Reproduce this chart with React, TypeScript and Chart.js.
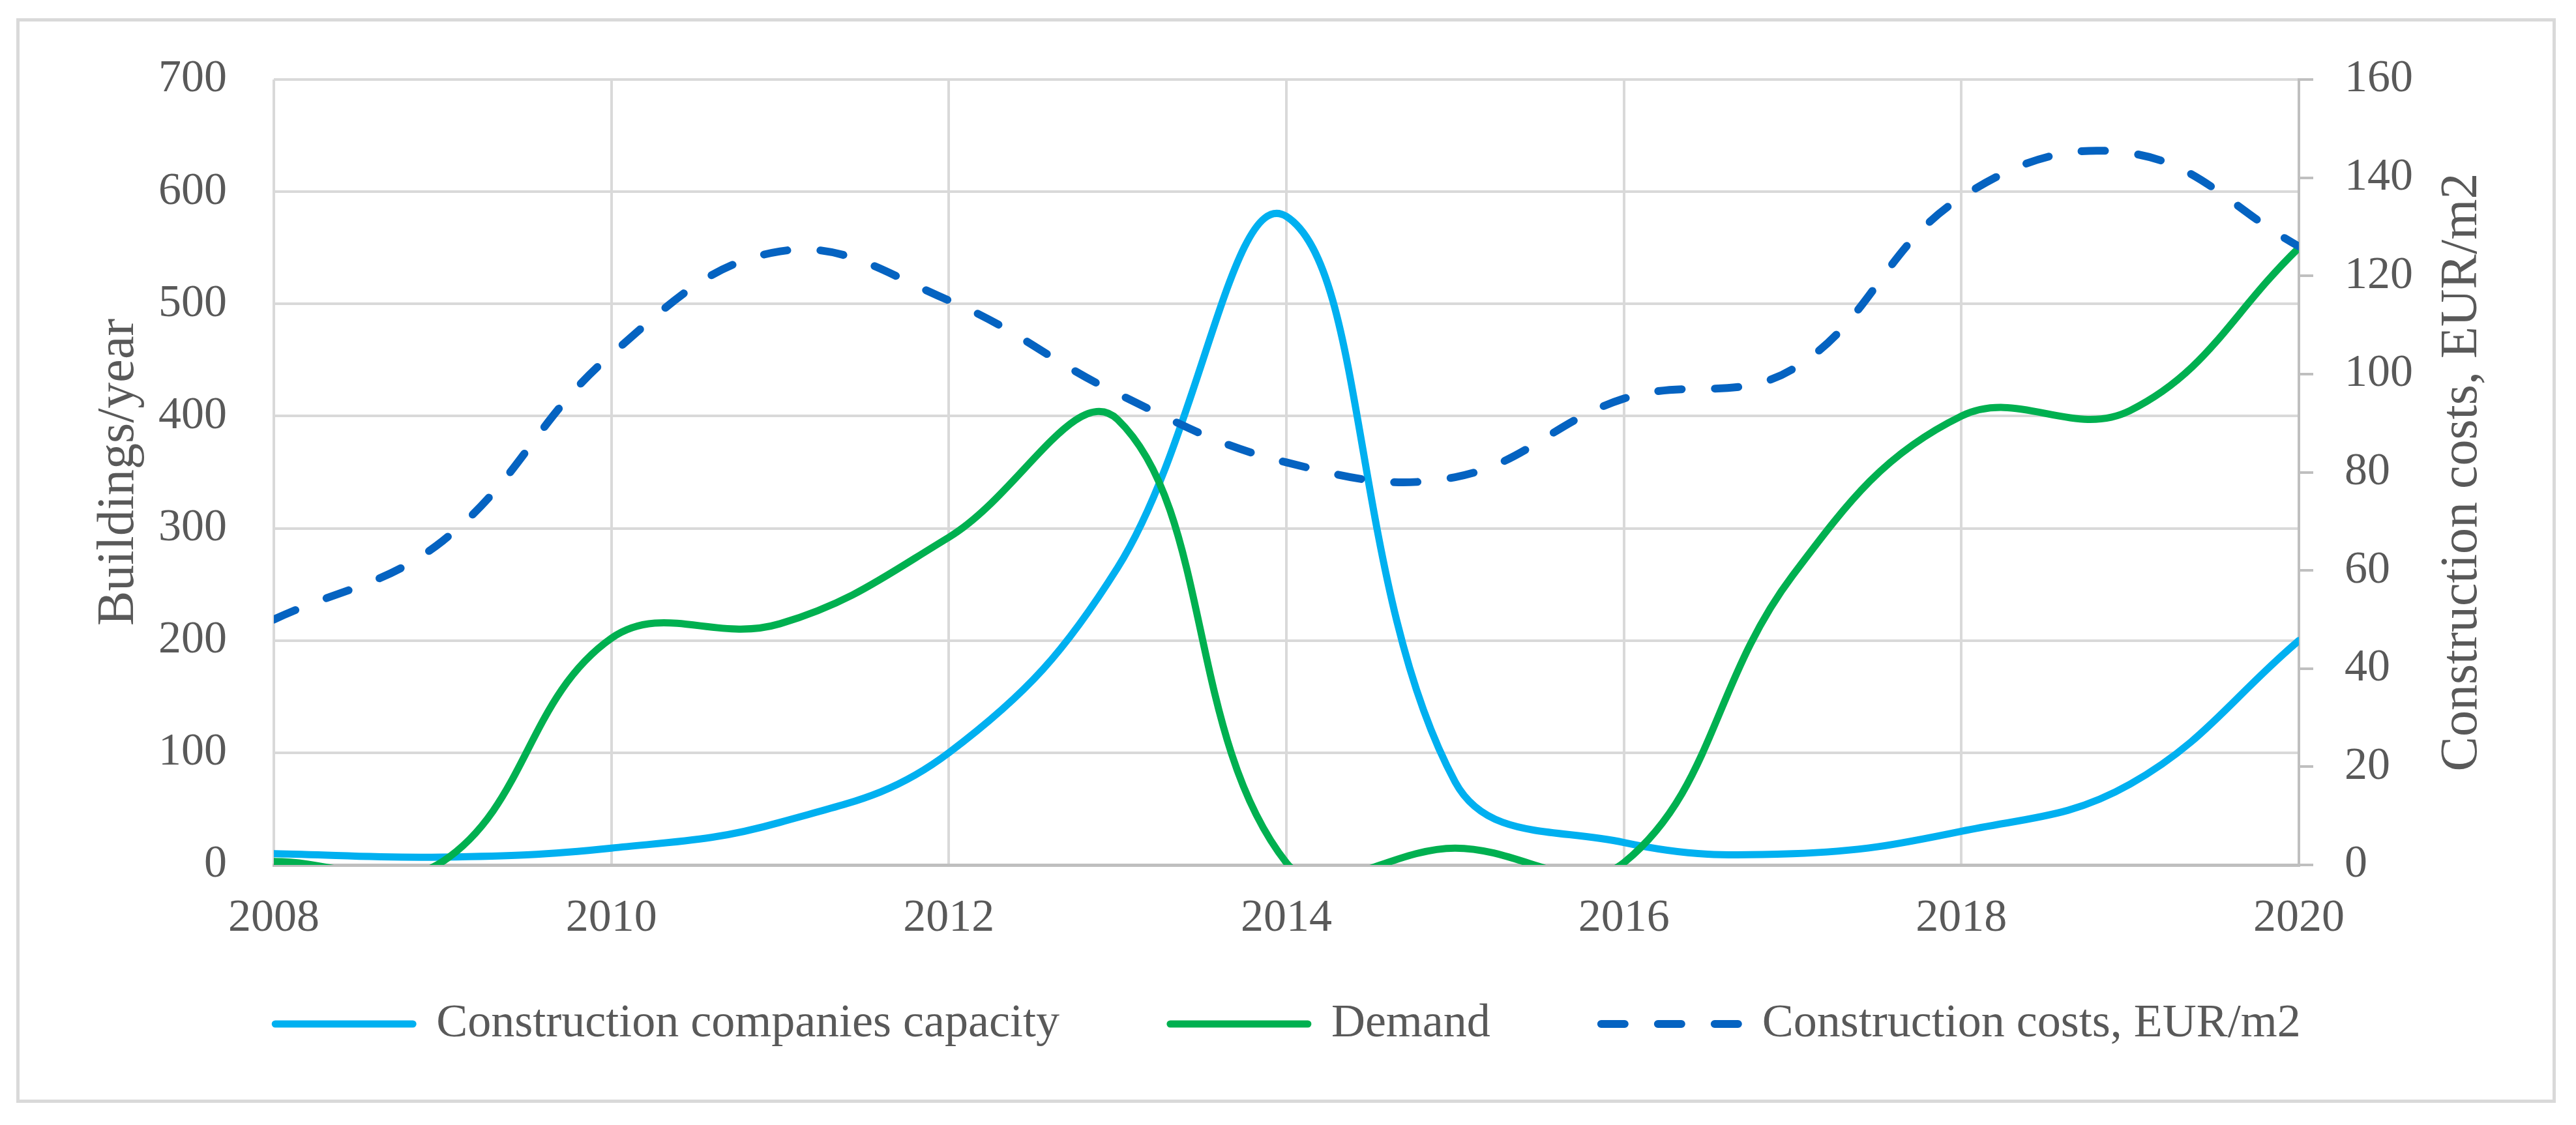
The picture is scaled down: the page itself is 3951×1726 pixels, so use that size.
import React, { useEffect, useRef } from 'react';
import { Chart, registerables } from 'chart.js';

Chart.register(...registerables);

// ---- data ----
const years = [2008, 2009, 2010, 2011, 2012, 2013, 2014, 2015, 2016, 2017, 2018, 2019, 2020];
const capacity = [10, 7, 15, 38, 100, 265, 578, 74, 20, 10, 30, 72, 200];
const demand = [3, 3, 202, 215, 292, 397, 2, 15, 2, 258, 400, 405, 550];
const costs = [50, 66, 104, 125, 115, 96, 82, 79, 95, 101, 136, 145, 126];

const xTickValues = [2008, 2010, 2012, 2014, 2016, 2018, 2020];
const leftTickValues = [0, 100, 200, 300, 400, 500, 600, 700];
const rightTickValues = [0, 20, 40, 60, 80, 100, 120, 140, 160];

const seriesNames = ['Construction companies capacity', 'Demand', 'Construction costs, EUR/m2'];
const leftTitle = 'Buildings/year';
const rightTitle = 'Construction costs, EUR/m2';

const W = 3951;
const H = 1726;
const FONT = "'Liberation Serif', 'Times New Roman', serif";
const TEXT = '#595959';
const GRID = '#D9D9D9';
const AXIS = '#BFBFBF';
const LEGEND_CENTER_Y = 1571;

// move the legend row up to its place under the axis labels
const legendShiftPlugin = {
  id: 'legendShift',
  afterLayout(chart: any) {
    const lg = chart.legend;
    if (!lg) return;
    const pad = lg.options.labels.padding;
    const fs = lg.options.labels.font.size;
    const natural = lg.top + pad + fs / 2;
    const dy = LEGEND_CENTER_Y - natural;
    lg.top += dy;
    lg.bottom += dy;
  },
};

const rightTitlePlugin = {
  id: 'rightTitle',
  afterDraw(chart: any) {
    const s = chart.scales.y1;
    const ctx = chart.ctx;
    ctx.save();
    ctx.font = `80px ${FONT}`;
    ctx.fillStyle = TEXT;
    ctx.textAlign = 'center';
    ctx.textBaseline = 'middle';
    ctx.translate(s.right - 174, (chart.chartArea.top + chart.chartArea.bottom) / 2);
    ctx.rotate(-Math.PI / 2);
    ctx.fillText(rightTitle, 0, 0);
    ctx.restore();
  },
};

function toPoints(vals: number[]) {
  return years.map((x, i) => ({ x, y: vals[i] }));
}

export default function App() {
  const ref = useRef<HTMLCanvasElement | null>(null);

  useEffect(() => {
    if (!ref.current) return;
    const chart = new Chart(ref.current, {
      type: 'line',
      data: {
        datasets: [
          {
            label: seriesNames[0],
            data: toPoints(capacity),
            borderColor: '#00B0F0',
            backgroundColor: '#00B0F0',
            borderWidth: 11,
            yAxisID: 'y',
            order: 2,
          },
          {
            label: seriesNames[1],
            data: toPoints(demand),
            borderColor: '#00B050',
            backgroundColor: '#00B050',
            borderWidth: 11,
            yAxisID: 'y',
            order: 1,
          },
          {
            label: seriesNames[2],
            data: toPoints(costs),
            borderColor: '#0563C1',
            backgroundColor: '#0563C1',
            borderWidth: 12,
            borderDash: [36, 51],
            yAxisID: 'y1',
            order: 0,
          },
        ] as any,
      },
      options: {
        animation: false,
        responsive: false,
        devicePixelRatio: 1,
        layout: { padding: { top: 122, left: 0, right: 0, bottom: 12 } },
        elements: {
          point: { radius: 0, hoverRadius: 0 },
          line: {
            tension: 0.4,
            capBezierPoints: false,
            borderCapStyle: 'round',
            borderJoinStyle: 'round',
            fill: false,
          },
        },
        plugins: {
          tooltip: { enabled: false },
          legend: {
            position: 'bottom',
            labels: {
              usePointStyle: true,
              pointStyle: 'line',
              pointStyleWidth: 211,
              padding: 170,
              color: TEXT,
              font: { family: FONT, size: 72 },
              sort: (a: any, b: any) => a.datasetIndex - b.datasetIndex,
              generateLabels: (c: any) => {
                const items = (Chart.defaults.plugins.legend.labels as any).generateLabels(c);
                items.forEach((it: any) => {
                  const ds = c.data.datasets[it.datasetIndex];
                  it.lineDash = ds.borderDash || [];
                  it.lineCap = 'round';
                  it.lineWidth = ds.borderWidth;
                  it.strokeStyle = ds.borderColor;
                  it.fillStyle = ds.borderColor;
                  it.pointStyle = 'line';
                });
                return items;
              },
            },
          },
        },
        scales: {
          x: {
            type: 'linear',
            min: 2008,
            max: 2020,
            afterBuildTicks: (s: any) => {
              s.ticks = xTickValues.map((v) => ({ value: v }));
            },
            afterFit: (s: any) => {
              s.height = 135;
            },
            ticks: {
              callback: (v: any) => String(v),
              color: TEXT,
              font: { family: FONT, size: 70 },
              padding: 41,
              maxRotation: 0,
              autoSkip: false,
            },
            grid: { color: GRID, lineWidth: 4, drawTicks: false },
            border: { display: true, color: AXIS, width: 5 },
          },
          y: {
            type: 'linear',
            position: 'left',
            min: 0,
            max: 700,
            afterBuildTicks: (s: any) => {
              s.ticks = leftTickValues.map((v) => ({ value: v }));
            },
            afterFit: (s: any) => {
              s.width = 420;
            },
            ticks: {
              color: TEXT,
              font: { family: FONT, size: 70 },
              padding: 72,
            },
            grid: {
              color: (c: any) => (c.tick && c.tick.value === 0 ? AXIS : GRID),
              lineWidth: (c: any) => (c.tick && c.tick.value === 0 ? 5 : 4),
              drawTicks: false,
            },
            border: { display: false },
            title: {
              display: true,
              text: leftTitle,
              color: TEXT,
              font: { family: FONT, size: 80 },
              padding: { top: 135, bottom: 0 },
            },
          },
          y1: {
            type: 'linear',
            position: 'right',
            min: 0,
            max: 160,
            afterBuildTicks: (s: any) => {
              s.ticks = rightTickValues.map((v) => ({ value: v }));
            },
            afterFit: (s: any) => {
              s.width = 425;
            },
            ticks: {
              color: TEXT,
              font: { family: FONT, size: 70 },
              padding: 48,
            },
            grid: {
              drawOnChartArea: false,
              drawTicks: true,
              tickLength: 22,
              color: AXIS,
              lineWidth: 4,
            },
            border: { display: true, color: AXIS, width: 4 },
          },
        },
      } as any,
      plugins: [legendShiftPlugin, rightTitlePlugin],
    });
    return () => chart.destroy();
  }, []);

  return (
    <div style={{ position: 'absolute', left: 0, top: 0, width: W, height: H, background: '#fff', overflow: 'hidden' }}>
      <div
        style={{
          position: 'absolute',
          left: 25,
          top: 28,
          width: 3895,
          height: 1664,
          border: '5px solid #D9D9D9',
          boxSizing: 'border-box',
        }}
      />
      <canvas
        ref={ref}
        width={W}
        height={H}
        style={{ position: 'absolute', left: 0, top: 0, width: W, height: H }}
      />
    </div>
  );
}
